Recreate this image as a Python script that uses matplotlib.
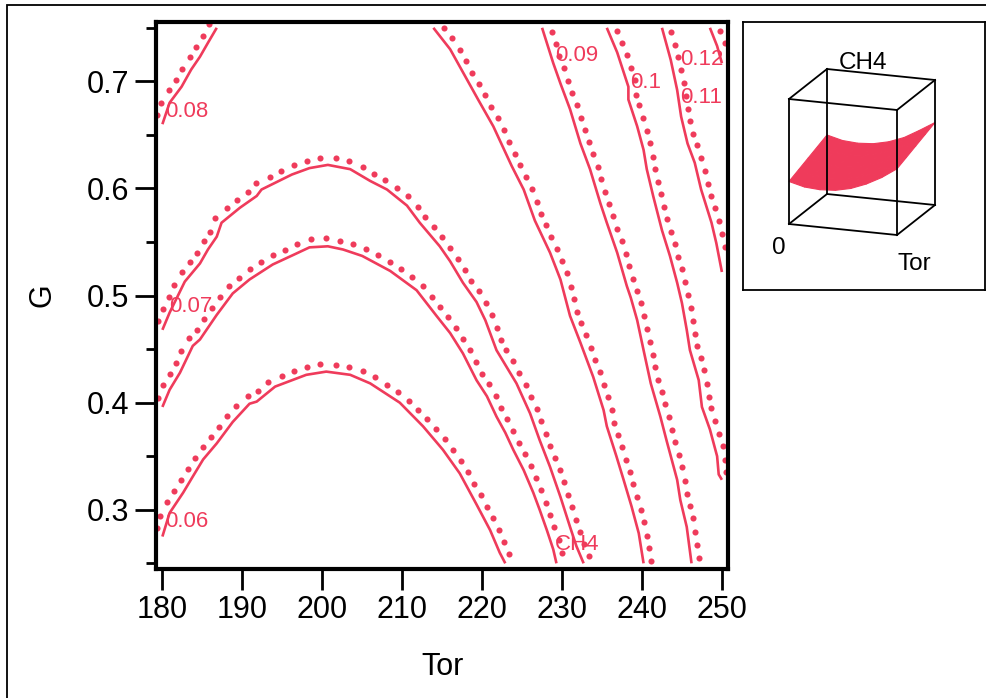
import numpy as np
import matplotlib
matplotlib.use("Agg")
import matplotlib.pyplot as plt
from matplotlib.patches import Rectangle, Polygon
from matplotlib.ticker import FixedLocator

plt.rcParams['font.family'] = ['Liberation Sans', 'DejaVu Sans']

RED = '#EF3B5B'

# ---- contour paths of CH4 over (Tor, G); higher CH4 lies to the left of travel ----
c006_tor = [180.0, 180.9, 182.6, 183.8, 185.1, 186.8, 188.8, 190.9, 191.8, 194.1, 198.0,
            200.5, 203.5, 206.0, 209.7, 212.6, 215.1, 217.2, 219.3, 221.0, 222.2, 222.9]
c006_g = [0.275, 0.297, 0.316, 0.331, 0.347, 0.362, 0.382, 0.399, 0.401, 0.415, 0.426,
          0.429, 0.426, 0.418, 0.400, 0.378, 0.356, 0.334, 0.305, 0.281, 0.260, 0.250]

cur_tor = [180.0, 180.9, 182.2, 183.8, 184.7, 186.8, 188.8, 190.9, 193.8, 196.4, 198.4,
           200.7, 202.6, 205.0, 208.5, 211.8, 214.3, 216.0, 217.6, 219.3, 220.6, 221.8,
           222.9, 223.9, 225.2, 226.4, 227.2, 228.1, 228.9, 229.3]
cur_g = [0.396, 0.412, 0.428, 0.453, 0.459, 0.482, 0.502, 0.515, 0.529, 0.538, 0.545,
         0.546, 0.543, 0.537, 0.523, 0.505, 0.481, 0.465, 0.446, 0.421, 0.406, 0.387,
         0.372, 0.356, 0.337, 0.316, 0.300, 0.281, 0.263, 0.250]

c007_tor = [180.0, 180.9, 182.8, 184.7, 185.7, 186.8, 187.4, 189.7, 191.8, 192.4, 196.2,
            198.4, 200.7, 203.5, 206.0, 208.1, 210.6, 212.2, 214.7, 216.0, 217.6, 219.3,
            220.4, 221.8, 224.3, 226.0, 227.2, 228.5, 229.8, 231.0, 231.8, 232.7]
c007_g = [0.468, 0.484, 0.513, 0.530, 0.543, 0.555, 0.568, 0.582, 0.593, 0.599, 0.613,
          0.619, 0.622, 0.618, 0.607, 0.599, 0.584, 0.568, 0.546, 0.532, 0.512, 0.494,
          0.477, 0.449, 0.418, 0.390, 0.365, 0.340, 0.312, 0.284, 0.266, 0.250]

c008a_tor = [180.0, 180.9, 182.4, 183.6, 184.7, 185.7, 186.8]
c008a_g = [0.660, 0.680, 0.695, 0.711, 0.723, 0.736, 0.750]

c008b_tor = [213.9, 216.0, 219.5, 221.4, 223.7, 225.2, 226.6, 228.5, 229.8, 231.0, 232.3,
             233.9, 235.2, 235.6, 236.8, 237.7, 238.7, 239.6, 240.2]
c008b_g = [0.750, 0.730, 0.683, 0.658, 0.621, 0.599, 0.570, 0.540, 0.515, 0.481, 0.456,
           0.424, 0.393, 0.378, 0.350, 0.328, 0.303, 0.278, 0.250]

c009_tor = [227.5, 228.9, 229.8, 231.0, 232.3, 233.5, 234.8, 235.6, 236.9, 238.1, 238.6,
            239.4, 240.2, 241.1, 242.3, 243.1, 244.4, 244.8, 245.6, 246.2]
c009_g = [0.750, 0.717, 0.698, 0.674, 0.642, 0.618, 0.586, 0.568, 0.540, 0.509, 0.498,
          0.477, 0.449, 0.418, 0.387, 0.364, 0.328, 0.309, 0.284, 0.250]

c010_tor = [235.6, 236.9, 238.3, 238.3, 239.4, 240.2, 240.6, 241.4, 242.5, 243.5, 244.4,
            245.0, 245.6, 246.0, 247.1, 247.5, 248.5, 249.4, 249.6, 250.0]
c010_g = [0.750, 0.727, 0.695, 0.683, 0.658, 0.636, 0.618, 0.593, 0.561, 0.537, 0.512,
          0.493, 0.468, 0.449, 0.421, 0.396, 0.375, 0.350, 0.333, 0.328]

c011_tor = [242.5, 243.6, 244.4, 244.9, 245.7, 246.6, 247.4, 248.7, 249.3, 250.0]
c011_g = [0.750, 0.720, 0.692, 0.667, 0.642, 0.624, 0.599, 0.568, 0.549, 0.522]

c012_tor = [248.5, 249.4, 250.0]
c012_g = [0.750, 0.733, 0.717]

contour_labels = ['0.08', '0.07', '0.06', '0.09', '0.1', '0.12', '0.11', 'CH4']

# ---- CH4 surface values for the 3-D preview ----
grid_tor = [180, 190, 200, 210, 220, 230, 240, 250]
grid_g = [0.25, 0.375, 0.5, 0.625, 0.75]
grid_ch4 = [
    [0.0587, 0.0525, 0.0507, 0.0522, 0.0576, 0.0670, 0.0797, 0.0960],
    [0.0652, 0.0591, 0.0572, 0.0587, 0.0643, 0.0733, 0.0860, 0.1024],
    [0.0717, 0.0656, 0.0637, 0.0653, 0.0709, 0.0795, 0.0924, 0.1089],
    [0.0782, 0.0721, 0.0702, 0.0718, 0.0774, 0.0862, 0.0992, 0.1153],
    [0.0847, 0.0785, 0.0767, 0.0784, 0.0839, 0.0931, 0.1069, 0.1217],
]

x_ticks = [180, 190, 200, 210, 220, 230, 240, 250]
y_ticks = [0.3, 0.4, 0.5, 0.6, 0.7]
y_minor = [0.25, 0.35, 0.45, 0.55, 0.65, 0.75]

W, H = 987, 698
fig = plt.figure(figsize=(W / 100, H / 100), dpi=100)

# outer frame
fig.add_artist(Rectangle((7 / W, -0.1), 1.2, 1 - 5 / H + 0.1, transform=fig.transFigure,
                         fill=False, lw=1.3, ec='black'))

ax = fig.add_axes([156 / W, 1 - 569 / H, (728.3 - 156) / W, (569 - 21.7) / H])
ax.set_xlim(179.2, 250.8)
ax.set_ylim(0.2447, 0.7557)

for sp in ax.spines.values():
    sp.set_linewidth(3)

ax.set_xticks(x_ticks)
ax.set_xticklabels([str(v) for v in x_ticks])
ax.set_yticks(y_ticks)
ax.set_yticklabels([f'{v:g}' for v in y_ticks])
ax.yaxis.set_minor_locator(FixedLocator(y_minor))
ax.tick_params(which='major', length=15, width=2, labelsize=22, pad=4)
ax.tick_params(which='minor', length=7.5, width=2)
ax.set_xlabel('Tor', fontsize=22, labelpad=19)
ax.set_ylabel('G', fontsize=22, labelpad=21)


def offset_dots(tor, g, spacing=13.0, offset=8.0):
    pts = ax.transData.transform(np.column_stack([tor, g]))
    seg = np.diff(pts, axis=0)
    cum = np.concatenate([[0.0], np.cumsum(np.hypot(seg[:, 0], seg[:, 1]))])
    s = np.arange(spacing / 2, cum[-1], spacing)
    x = np.interp(s, cum, pts[:, 0])
    y = np.interp(s, cum, pts[:, 1])
    xa, ya = np.interp(s - 5, cum, pts[:, 0]), np.interp(s - 5, cum, pts[:, 1])
    xb, yb = np.interp(s + 5, cum, pts[:, 0]), np.interp(s + 5, cum, pts[:, 1])
    tx, ty = xb - xa, yb - ya
    nrm = np.hypot(tx, ty)
    tx, ty = tx / nrm, ty / nrm
    dots = np.column_stack([x - offset * ty, y + offset * tx])
    right_edge = ax.transAxes.transform((1, 0))[0]
    dots = dots[dots[:, 0] < right_edge - 1]
    return ax.transData.inverted().transform(dots)


paths = [(c006_tor, c006_g), (cur_tor, cur_g), (c007_tor, c007_g),
         (c008a_tor, c008a_g), (c008b_tor, c008b_g), (c009_tor, c009_g),
         (c010_tor, c010_g), (c011_tor, c011_g), (c012_tor, c012_g)]

for tor, g in paths:
    ax.plot(tor, g, color=RED, lw=1.9, solid_capstyle='butt')
    d = offset_dots(tor, g)
    ax.plot(d[:, 0], d[:, 1], 'o', color=RED, ms=4.4, mew=0, clip_on=False)

label_pos = [(180.3, 0.672), (180.9, 0.490), (180.3, 0.289), (229.1, 0.724),
             (238.5, 0.699), (244.8, 0.720), (244.8, 0.685), (229.1, 0.268)]
for txt, (tx, ty) in zip(contour_labels, label_pos):
    ax.text(tx, ty, txt, color=RED, fontsize=16, ha='left', va='center')

# ---- 3-D preview of the CH4 surface ----
iax = fig.add_axes([743 / W, 1 - 290 / H, (985 - 743) / W, (290 - 21.7) / H])
iax.set_xlim(743, 985)
iax.set_ylim(290, 21.7)
iax.set_xticks([])
iax.set_yticks([])
for sp in iax.spines.values():
    sp.set_linewidth(1.3)

origin = np.array([789.0, 224.0])
e_u = np.array([108.0, 11.0])
e_v = np.array([38.0, -30.0])
e_w = np.array([0.0, -125.0])
z_lo, z_hi = -0.0083, 0.1887


def proj(u, v, w):
    return origin + u * e_u + v * e_v + w * e_w


def edge(a, b, **kw):
    p, q = proj(*a), proj(*b)
    iax.plot([p[0], q[0]], [p[1], q[1]], color='black', lw=1.3, **kw)


# edges lying behind the surface
for a, b in [((0, 0, 0), (1, 0, 0)), ((0, 1, 0), (1, 1, 0)), ((0, 0, 0), (0, 1, 0)),
             ((1, 0, 0), (1, 1, 0)), ((0, 1, 0), (0, 1, 1))]:
    edge(a, b)

tor_arr = np.array(grid_tor, float)
g_arr = np.array(grid_g, float)
z_arr = np.array(grid_ch4, float)
u_arr = (tor_arr - tor_arr[0]) / (tor_arr[-1] - tor_arr[0])
v_arr = (g_arr - g_arr[0]) / (g_arr[-1] - g_arr[0])
w_arr = (z_arr - z_lo) / (z_hi - z_lo)
for j in range(len(g_arr) - 1, 0, -1):
    for i in range(len(tor_arr) - 1):
        quad = [proj(u_arr[i], v_arr[j - 1], w_arr[j - 1, i]),
                proj(u_arr[i + 1], v_arr[j - 1], w_arr[j - 1, i + 1]),
                proj(u_arr[i + 1], v_arr[j], w_arr[j, i + 1]),
                proj(u_arr[i], v_arr[j], w_arr[j, i])]
        iax.add_patch(Polygon(quad, closed=True, fc=RED, ec=RED, lw=0.8))

# edges in front of the surface
for a, b in [((0, 0, 1), (1, 0, 1)), ((0, 1, 1), (1, 1, 1)), ((0, 0, 1), (0, 1, 1)),
             ((1, 0, 1), (1, 1, 1)), ((0, 0, 0), (0, 0, 1)), ((1, 0, 0), (1, 0, 1)),
             ((1, 1, 0), (1, 1, 1))]:
    edge(a, b)

iax.text(863, 63, 'CH4', fontsize=17.5, ha='center', va='center')
iax.text(779, 248, '0', fontsize=17.5, ha='center', va='center')
iax.text(914, 264, 'Tor', fontsize=17.5, ha='center', va='center')

fig.savefig('out.png', dpi=100)
